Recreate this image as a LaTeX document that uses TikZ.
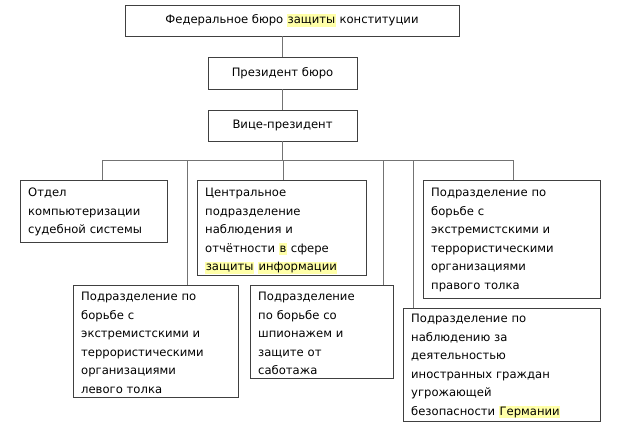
\documentclass[tikz,border=0pt]{standalone}
\usepackage{fontspec}
\setmainfont{DejaVu Sans}
\definecolor{hly}{HTML}{FFFFA8}
\newcommand{\hlx}[1]{{\setlength{\fboxsep}{0.6pt}\colorbox{hly}{\vphantom{Жу}#1}}}
\begin{document}
\begin{tikzpicture}[x=1pt,y=-1pt,
  fnt/.style={font=\fontsize{11.6}{18.5}\selectfont},
  box/.style={draw=black!75,line width=0.8pt,rectangle,inner sep=0pt,fnt},
  txt/.style={fnt,inner sep=0pt,align=left,text width=#1,anchor=north west},
  ln/.style={draw=black!55,line width=0.8pt}]
\useasboundingbox (0,0) rectangle (617,426);
\node[box,minimum width=334,minimum height=31] (fed) at (292,20.5) {Федеральное бюро \hlx{защиты} конституции};
\node[box,minimum width=149,minimum height=32] (pres) at (282.5,73) {Президент бюро};
\node[box,minimum width=149,minimum height=31] (vice) at (282.5,125.5) {Вице-президент};
\node[box,minimum width=147,minimum height=62] (b1) at (93.5,211) {};
\node[txt=140pt] (t1) at (28,188) {Отдел\\компьютеризации\\судебной системы};
\node[box,minimum width=169,minimum height=95] (b2) at (281.5,227.5) {};
\node[txt=165pt] (t2) at (205,188) {Центральное\\подразделение\\наблюдения и\\отчётности \hlx{в} сфере\\\hlx{защиты} \hlx{информации}};
\node[box,minimum width=177,minimum height=118] (b3) at (511.5,239) {};
\node[txt=170pt] (t3) at (431,188) {Подразделение по\\борьбе с\\экстремистскими и\\террористическими\\организациями\\правого толка};
\node[box,minimum width=165,minimum height=112] (b4) at (155.5,341) {};
\node[txt=160pt] (t4) at (81,292) {Подразделение по\\борьбе с\\экстремистскими и\\террористическими\\организациями\\левого толка};
\node[box,minimum width=143,minimum height=93] (b5) at (321.5,331.5) {};
\node[txt=140pt] (t5) at (258,292) {Подразделение\\по борьбе со\\шпионажем и\\защите от\\саботажа};
\node[box,minimum width=197,minimum height=113] (b6) at (501.5,364.5) {};
\node[txt=195pt] (t6) at (411,314) {Подразделение по\\наблюдению за\\деятельностью\\иностранных граждан\\угрожающей\\безопасности \hlx{Германии}};
\coordinate (h) at (282.5,160);
\draw[ln] (fed.south -| pres.north) -- (pres.north);
\draw[ln] (pres.south) -- (vice.north);
\draw[ln] (vice.south) -- (h);
\draw[ln] (b1.north -| 102,0) -- (102,160) -- (513,160) -- (b3.north -| 513,0);
\draw[ln] (187,160) -- (b4.north -| 187,0);
\draw[ln] (283,160) -- (b2.north -| 283,0);
\draw[ln] (383,160) -- (b5.north -| 383,0);
\draw[ln] (413,160) -- (b6.north -| 413,0);
\end{tikzpicture}
\end{document}
